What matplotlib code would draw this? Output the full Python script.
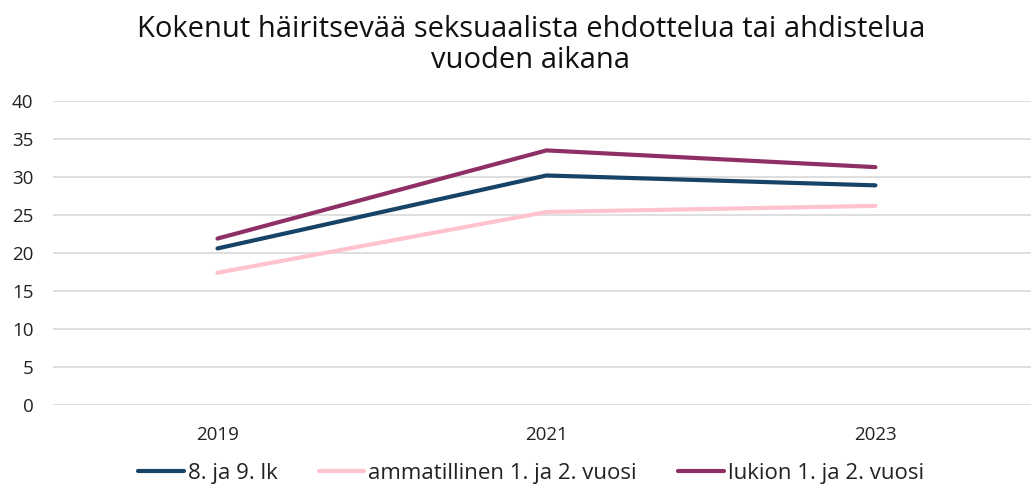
import matplotlib
matplotlib.use("Agg")
import matplotlib.pyplot as plt

years = ["2019", "2021", "2023"]
lk_8_9 = [20.6, 30.2, 28.9]
ammatillinen = [17.4, 25.4, 26.2]
lukio = [21.9, 33.5, 31.3]
series_names = ["8. ja 9. lk", "ammatillinen 1. ja 2. vuosi", "lukion 1. ja 2. vuosi"]
colors = ["#174466", "#ffc2cf", "#8e3065"]
title = "Kokenut häiritsevää seksuaalista ehdottelua tai ahdistelua\nvuoden aikana"

plt.rcParams['font.family'] = ['Open Sans', 'DejaVu Sans']

fig = plt.figure(figsize=(10.31, 4.88), dpi=100)
ax = fig.add_axes([53/1031, 1-405/488, 1-53/1031, (405-101)/488])

x = list(range(len(years)))
for vals, name, c in zip([lk_8_9, ammatillinen, lukio], series_names, colors):
    ax.plot(x, vals, color=c, lw=3.0, solid_capstyle='round', label=name)

ax.set_ylim(0, 40)
ax.set_yticks(range(0, 41, 5))
ax.set_xlim(-0.5, 2.473)
ax.set_xticks(x)
ax.set_xticklabels(years)
ax.grid(axis='y', color='#d9d9d9', lw=1.2)
ax.set_axisbelow(True)
for s in ax.spines.values():
    s.set_visible(False)
ax.tick_params(axis='both', length=0, labelsize=13.5, colors='#222222')
ax.tick_params(axis='y', pad=14)
ax.tick_params(axis='x', pad=15)

fig.text(0.515, 0.97, title, ha='center', va='top', fontsize=21, color='#111111',
         linespacing=1.1)

leg = fig.legend(loc='center', bbox_to_anchor=(0.515, 1-473/488), ncol=3, frameon=False,
                 fontsize=16, handlelength=2.05, handletextpad=0.18, columnspacing=1.85)
for t in leg.get_texts():
    t.set_color('#222222')

fig.savefig("out.png", dpi=100)
